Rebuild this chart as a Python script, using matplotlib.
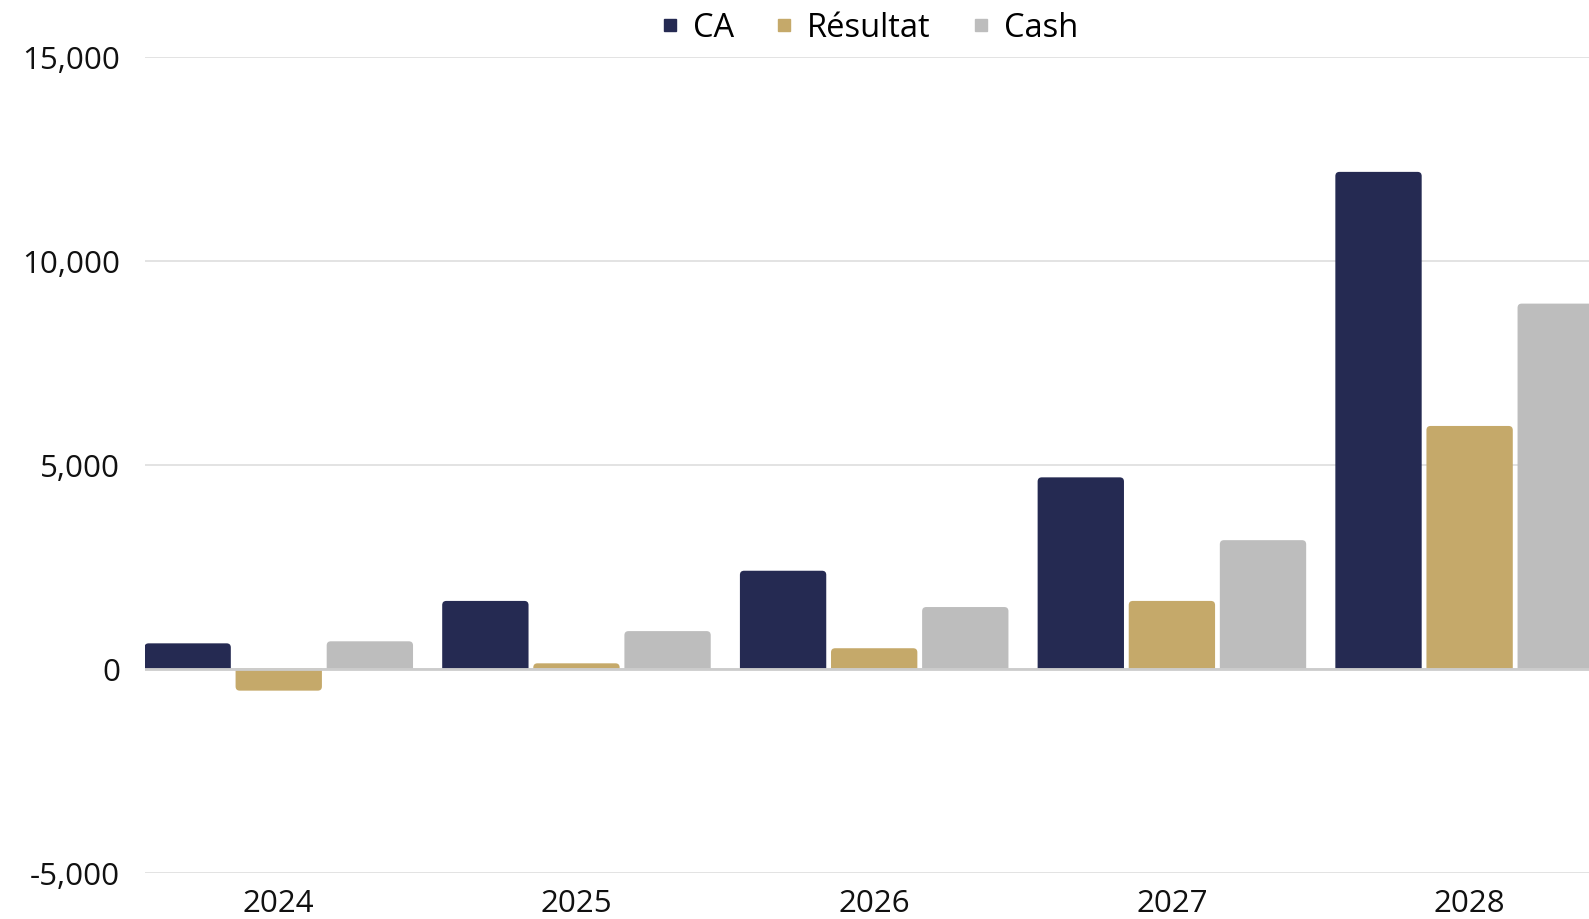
import matplotlib
matplotlib.use("Agg")
import matplotlib.pyplot as plt
from matplotlib.patches import PathPatch
from matplotlib.path import Path
from matplotlib.ticker import FuncFormatter
from matplotlib.lines import Line2D

# data
years = ['2024', '2025', '2026', '2027', '2028']
ca = [620, 1660, 2400, 4690, 12180]
resultat = [-540, 130, 500, 1660, 5950]
cash = [670, 920, 1510, 3150, 8950]
series_names = ['CA', 'Résultat', 'Cash']
colors = ['#252A52', '#C5A96A', '#BDBDBD']

plt.rcParams['font.family'] = ['Open Sans', 'DejaVu Sans']

fig = plt.figure(figsize=(15.89, 9.2), dpi=100)
ax = fig.add_axes([0.0913, 0.0505, 0.9087, 0.8866])

bar_w = 0.29
offsets = [-0.306, 0, 0.306]
r = 0.014          # corner radius in x units
aspect = 7300.0    # y units per x unit


def top_rounded(x, w, h):
    # bar path from baseline 0 to h, corners rounded at the far end only
    s = 1 if h >= 0 else -1
    hh = abs(h)
    rx = min(r, w / 2, hh / aspect)
    ry = rx * aspect
    verts = [(x, 0), (x, h - s * ry), (x, h), (x + rx, h),
             (x + w - rx, h), (x + w, h), (x + w, h - s * ry), (x + w, 0), (x, 0)]
    codes = [Path.MOVETO, Path.LINETO, Path.CURVE3, Path.CURVE3,
             Path.LINETO, Path.CURVE3, Path.CURVE3, Path.LINETO, Path.CLOSEPOLY]
    return Path(verts, codes)


for vals, off, col in zip([ca, resultat, cash], offsets, colors):
    bars = ax.bar([i + off for i in range(len(years))], vals, width=bar_w, color=col)
    for b in bars:
        p = top_rounded(b.get_x(), b.get_width(), b.get_height())
        b.remove()
        ax.add_patch(PathPatch(p, fc=col, ec='none', zorder=2))

ax.set_xlim(-0.449, 4.401)
ax.set_ylim(-5000, 15000)
ax.set_yticks([-5000, 0, 5000, 10000, 15000])
ax.yaxis.set_major_formatter(FuncFormatter(lambda v, p: f"{int(v):,}"))
ax.set_xticks(range(len(years)))
ax.set_xticklabels(years)

ax.grid(axis='y', color='#DEDEDE', linewidth=1.2, zorder=0)
ax.axhline(0, color='#CCCCCC', linewidth=2, zorder=3)
for s in ax.spines.values():
    s.set_visible(False)
ax.tick_params(axis='both', length=0, labelsize=22.5, labelcolor='#111111')
ax.tick_params(axis='y', pad=18)
ax.tick_params(axis='x', pad=11)

handles = [Line2D([0], [0], marker='s', linestyle='none', markersize=8,
                  markerfacecolor=c, markeredgecolor=c) for c in colors]
fig.legend(handles, series_names, loc='center', bbox_to_anchor=(0.547, 0.969),
           ncol=3, frameon=False, fontsize=23.5, handlelength=0.6,
           handletextpad=0.4, columnspacing=1.25)

fig.savefig('out.png', dpi=100)
